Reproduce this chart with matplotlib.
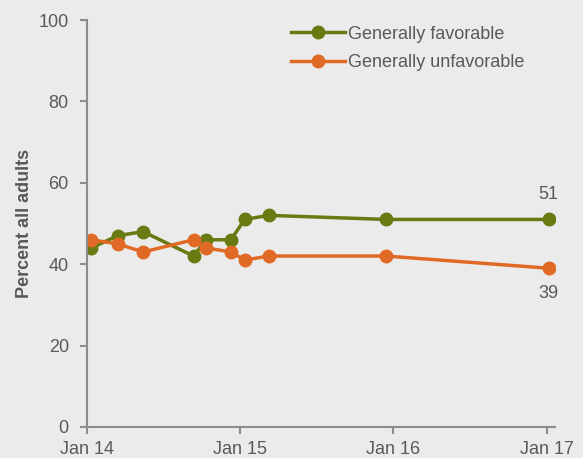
import matplotlib.pyplot as plt
import pandas as pd

plt.rcParams['font.family'] = ['Liberation Sans', 'DejaVu Sans']

dates = pd.to_datetime(['2014-01-12', '2014-03-15', '2014-05-15', '2014-09-12',
                        '2014-10-12', '2014-12-10', '2015-01-12', '2015-03-10',
                        '2015-12-15', '2017-01-05'])
favorable = [44, 47, 48, 42, 46, 46, 51, 52, 51, 51]
unfavorable = [46, 45, 43, 46, 44, 43, 41, 42, 42, 39]

green = '#6a7a12'
orange = '#e06a25'
bg = '#ebebeb'
grey = '#595959'

fig = plt.figure(figsize=(5.83, 4.58), dpi=100, facecolor=bg)
ax = fig.add_axes([0.149, 0.068, 0.803, 0.888], facecolor=bg)

ax.plot(dates, favorable, color=green, marker='o', markersize=9, linewidth=2.5,
        label='Generally favorable')
ax.plot(dates, unfavorable, color=orange, marker='o', markersize=9, linewidth=2.5,
        label='Generally unfavorable')

ax.text(dates[-1], favorable[-1] + 4, str(favorable[-1]), ha='center', va='bottom',
        fontsize=13, color=grey)
ax.text(dates[-1], unfavorable[-1] - 4, str(unfavorable[-1]), ha='center', va='top',
        fontsize=13, color=grey)

ax.set_ylim(0, 100)
ax.set_yticks([0, 20, 40, 60, 80, 100])
ax.set_xlim(pd.Timestamp('2014-01-01'), pd.Timestamp('2017-01-20'))
ticks = pd.to_datetime(['2014-01-01', '2015-01-01', '2016-01-01', '2017-01-01'])
ax.set_xticks(ticks)
ax.set_xticklabels(['Jan 14', 'Jan 15', 'Jan 16', 'Jan 17'])

for s in ['top', 'right']:
    ax.spines[s].set_visible(False)
for s in ['left', 'bottom']:
    ax.spines[s].set_color('#8c8c8c')
    ax.spines[s].set_linewidth(1.5)
ax.tick_params(colors='#8c8c8c', labelcolor=grey, labelsize=13, length=5, width=1.5)
ax.tick_params(axis='y', pad=8)
ax.tick_params(axis='x', pad=5)
ax.set_ylabel('Percent all adults', fontsize=13, fontweight='bold', color=grey,
              labelpad=4)

ax.legend(loc='upper left', bbox_to_anchor=(0.483, 0.964),
          bbox_transform=fig.transFigure, borderpad=0, frameon=False,
          fontsize=13, labelcolor=grey, handlelength=3.0, handletextpad=0.2,
          labelspacing=0.65)

fig.savefig('out.png', dpi=100, facecolor=bg)
